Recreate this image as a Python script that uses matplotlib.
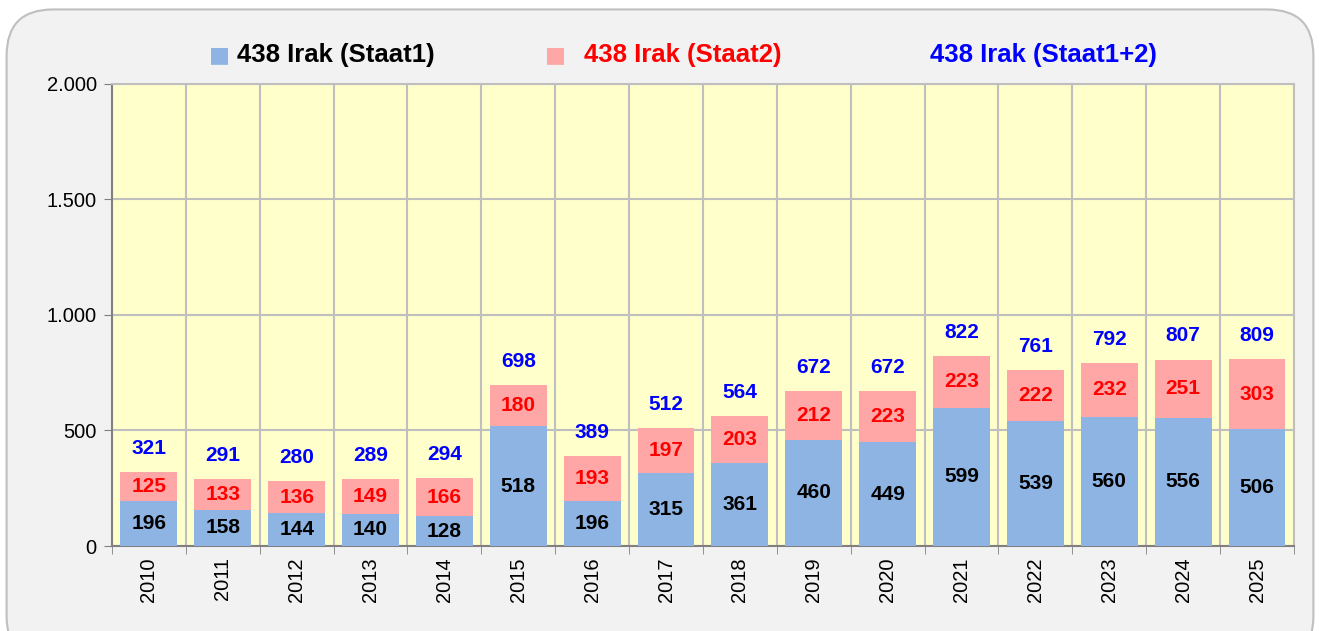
import matplotlib
matplotlib.use("Agg")
import matplotlib.pyplot as plt
from matplotlib.patches import FancyBboxPatch
from matplotlib.ticker import FuncFormatter, MultipleLocator
import numpy as np

plt.rcParams['font.family'] = ['Liberation Sans', 'DejaVu Sans']

years = [str(y) for y in range(2010, 2026)]
staat1 = [196, 158, 144, 140, 128, 518, 196, 315, 361, 460, 449, 599, 539, 560, 556, 506]
staat2 = [125, 133, 136, 149, 166, 180, 193, 197, 203, 212, 223, 223, 222, 232, 251, 303]
totals = [a + b for a, b in zip(staat1, staat2)]

C_BLUE = "#8DB4E2"
C_PINK = "#FFA6A6"

fig = plt.figure(figsize=(13.2, 6.31), dpi=100)
fig.patch.set_facecolor("white")

# rounded background panel
panel = FancyBboxPatch((0.005, -0.05), 0.99, 1.035, boxstyle="round,pad=0,rounding_size=0.035",
                       transform=fig.transFigure, facecolor="#F2F2F2", edgecolor="#BFBFBF",
                       linewidth=1.5, mutation_aspect=1320 / 631, zorder=-10)
fig.patches.append(panel)

ax = fig.add_axes([0.0848, 0.1347, 0.8955, 0.7322])
ax.set_facecolor("#FFFFCC")

x = np.arange(len(years))
w = 0.77
ax.bar(x, staat1, w, color=C_BLUE, zorder=3)
ax.bar(x, staat2, w, bottom=staat1, color=C_PINK, zorder=3)

fs = 15
for i in range(len(years)):
    ax.text(x[i], staat1[i] / 2, str(staat1[i]), ha="center", va="center",
            fontsize=fs, fontweight="bold", color="black", zorder=4)
    ax.text(x[i], staat1[i] + staat2[i] / 2, str(staat2[i]), ha="center", va="center",
            fontsize=fs, fontweight="bold", color="red", zorder=4)
    ax.annotate(str(totals[i]), (x[i], totals[i]), xytext=(0, 17), textcoords="offset points",
                ha="center", va="center", fontsize=fs, fontweight="bold", color="blue", zorder=4)

ax.set_xlim(-0.5, len(years) - 0.5)
ax.set_ylim(0, 2000)
ax.yaxis.set_major_locator(MultipleLocator(500))
ax.yaxis.set_major_formatter(FuncFormatter(lambda v, p: f"{int(v):,}".replace(",", ".")))

ax.set_xticks(x)
ax.set_xticklabels(years, rotation=90)
ax.set_xticks(np.arange(-0.5, len(years)), minor=True)
ax.tick_params(axis="x", which="major", length=0, pad=8, labelsize=14.5)
ax.tick_params(axis="x", which="minor", length=6, color="#808080", direction="out")
ax.tick_params(axis="y", length=6, color="#808080", labelsize=14.5, pad=5)

ax.grid(True, which="minor", axis="x", color="#BFBFBF", linewidth=1.5, zorder=0)
ax.grid(True, which="major", axis="y", color="#BFBFBF", linewidth=1.5, zorder=0)

for s in ["top", "right"]:
    ax.spines[s].set_color("#BFBFBF")
    ax.spines[s].set_linewidth(1.5)
for s in ["left", "bottom"]:
    ax.spines[s].set_color("#808080")
    ax.spines[s].set_linewidth(1.5)

# legend
ly = 1 - 55 / 631
fig.text(209 / 1320, ly, "\u25A0", color=C_BLUE, fontsize=16, ha="left", va="center",
         family=["DejaVu Sans"])
fig.text(237 / 1320, ly, "438 Irak (Staat1)", color="black", fontsize=18.5, fontweight="bold",
         ha="left", va="center")
fig.text(545 / 1320, ly, "\u25A0", color=C_PINK, fontsize=16, ha="left", va="center",
         family=["DejaVu Sans"])
fig.text(584 / 1320, ly, "438 Irak (Staat2)", color="red", fontsize=18.5, fontweight="bold",
         ha="left", va="center")
fig.text(930 / 1320, ly, "438 Irak (Staat1+2)", color="blue", fontsize=18.5, fontweight="bold",
         ha="left", va="center")

fig.savefig("out.png", dpi=100, facecolor=fig.get_facecolor())
